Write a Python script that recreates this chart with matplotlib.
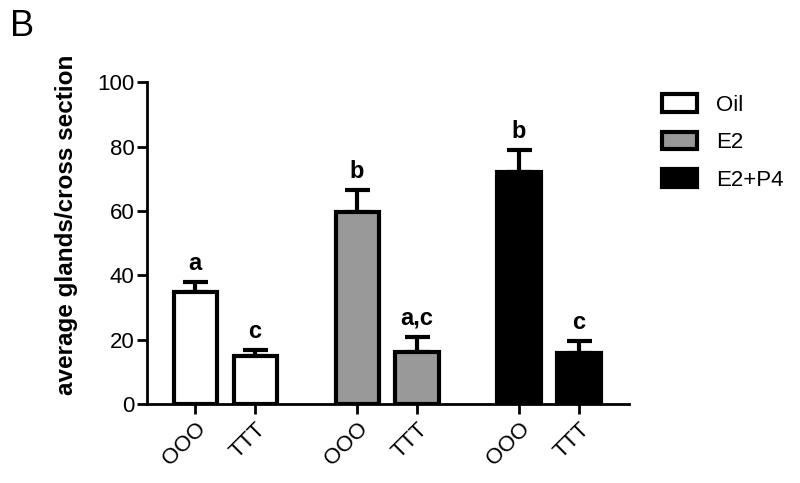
#! /usr/bin/env python3
'''Glands per cross section, OOO vs TTT, for Oil / E2 / E2+P4 treatments.'''

import matplotlib
matplotlib.use('Agg')
import matplotlib.pyplot as plt
from matplotlib.patches import Patch

plt.rcParams['font.family'] = ['Liberation Sans', 'DejaVu Sans']

treatments = ['Oil', 'E2', 'E2+P4']
genotypes = ['OOO', 'TTT']
colors = ['white', '#999999', 'black']

means = [[34.8, 14.9],
         [59.6, 16.1],
         [72.0, 15.8]]
errs = [[3.1, 1.9],
        [6.9, 4.7],
        [6.9, 3.8]]
letters = [['a', 'c'],
           ['b', 'a,c'],
           ['b', 'c']]

group_step = 2.7

fig = plt.figure(figsize=(8, 4.83), dpi=100)
ax = fig.add_axes([0.184, 0.1636, 0.602, 0.666])

ticks, ticklabels = [], []
for i, t in enumerate(treatments):
    for j, g in enumerate(genotypes):
        x = i * group_step + j
        ax.bar(x, means[i][j], width=0.72, color=colors[i], edgecolor='black',
               linewidth=3, zorder=2)
        ax.errorbar(x, means[i][j], yerr=[[0], [errs[i][j]]], fmt='none',
                    ecolor='black', elinewidth=3, capsize=9, capthick=3, zorder=1)
        ax.text(x, means[i][j] + errs[i][j] + 2.2, letters[i][j], ha='center',
                va='bottom', fontsize=17, fontweight='bold')
        ticks.append(x)
        ticklabels.append(g)

ax.set_xlim(-0.8, 7.23)
ax.set_ylim(0, 100)
ax.set_yticks([0, 20, 40, 60, 80, 100])
ax.set_xticks(ticks)
ax.set_xticklabels(ticklabels, rotation=45, ha='right', rotation_mode='anchor',
                   fontsize=16)
ax.tick_params(axis='y', labelsize=16, width=2, length=7, pad=2)
ax.tick_params(axis='x', width=2, length=7)
for s in ['top', 'right']:
    ax.spines[s].set_visible(False)
for s in ['left', 'bottom']:
    ax.spines[s].set_linewidth(2)
ax.set_ylabel('average glands/cross section', fontsize=17.5, fontweight='bold')
ax.yaxis.set_label_coords(-0.143, 0.556)

handles = [Patch(facecolor=c, edgecolor='black', linewidth=3, label=t)
           for t, c in zip(treatments, colors)]
fig.legend(handles=handles, loc='upper left', bbox_to_anchor=(0.827, 0.805),
           frameon=False, fontsize=16, handlelength=1.6, handleheight=0.85,
           handletextpad=0.85, labelspacing=0.72, borderpad=0, borderaxespad=0)

fig.text(0.012, 0.925, 'B', fontsize=26)

plt.savefig('out.png', dpi=100)
